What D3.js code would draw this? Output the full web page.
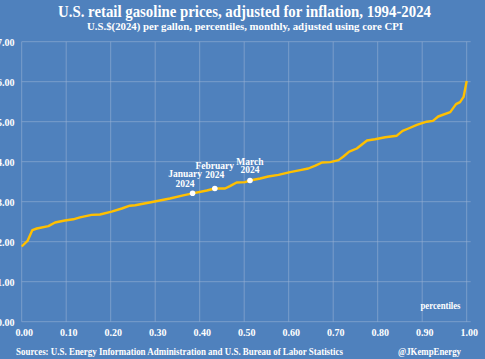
<!DOCTYPE html>
<html><head><meta charset="utf-8">
<script src="https://cdn.jsdelivr.net/npm/d3@7"></script>
<style>html,body{margin:0;padding:0;background:#4F81BD;}svg{display:block;}</style>
</head><body>
<svg id="c" width="485" height="359"></svg>
<script>
// Data (percentile, price in 2024 US$ per gallon)
const percentiles = [0.000,0.013,0.024,0.034,0.060,0.075,0.097,0.116,0.131,0.157,0.176,0.202,0.225,0.243,0.255,0.296,0.333,0.363,0.384,0.416,0.434,0.457,0.468,0.483,0.502,0.513,0.536,0.554,0.577,0.603,0.626,0.644,0.660,0.675,0.693,0.712,0.723,0.736,0.753,0.776,0.794,0.817,0.843,0.856,0.869,0.888,0.910,0.924,0.936,0.963,0.976,0.985,0.993,1.000];
const prices      = [1.88,2.02,2.29,2.33,2.39,2.48,2.53,2.56,2.61,2.67,2.68,2.75,2.83,2.90,2.91,3.00,3.08,3.16,3.21,3.28,3.33,3.33,3.39,3.48,3.49,3.53,3.58,3.63,3.67,3.74,3.79,3.83,3.90,3.98,3.99,4.04,4.13,4.25,4.33,4.53,4.56,4.61,4.65,4.77,4.83,4.92,5.00,5.02,5.13,5.24,5.44,5.49,5.62,6.02];
const markerLabels = ["January", "February", "March"];
const markerYears = ["2024", "2024", "2024"];
const markerPercentiles = [0.384, 0.434, 0.513];
const markerPrices = [3.21, 3.33, 3.53];
const xTicks = [0,0.1,0.2,0.3,0.4,0.5,0.6,0.7,0.8,0.9,1.0];
const yTicks = [0,1,2,3,4,5,6,7];
const title = "U.S. retail gasoline prices, adjusted for inflation, 1994-2024";
const subtitle = "U.S.$(2024) per gallon, percentiles, monthly, adjusted using core CPI";
const source = "Sources: U.S. Energy Information Administration and U.S. Bureau of Labor Statistics";
const credit = "@JKempEnergy";
const xLabel = "percentiles";

const svg = d3.select("#c");
const FONT = "'Liberation Serif', 'DejaVu Serif', serif";
const x = d3.scaleLinear().domain([0,1]).range([21.7,466.7]);
const y = d3.scaleLinear().domain([0,7]).range([321.7,41.7]);

svg.append("rect").attr("width",485).attr("height",359).attr("fill","#4F81BD");

// grid
const grid = svg.append("g").attr("stroke","#9DB4D6").attr("stroke-opacity",0.7).attr("stroke-width",0.8);
grid.selectAll("line.h").data(yTicks).join("line").attr("class","h")
  .attr("x1",x(0)).attr("x2",470.7).attr("y1",d=>y(d)).attr("y2",d=>y(d));
grid.selectAll("line.v").data(xTicks).join("line").attr("class","v")
  .attr("x1",d=>x(d)).attr("x2",d=>x(d)).attr("y1",y(7)).attr("y2",y(0));

// axes labels
const yAxis = d3.axisLeft(y).tickValues(yTicks).tickFormat(d3.format(".2f")).tickSize(0).tickPadding(0);
const ya = svg.append("g").attr("transform","translate(14.5,0)").call(yAxis);
ya.select(".domain").remove();
ya.selectAll("text").attr("fill","#fff").attr("font-family",FONT).attr("font-weight","bold").attr("font-size",10).attr("dy","0.35em");

const xAxis = d3.axisBottom(x).tickValues(xTicks).tickFormat(d3.format(".2f")).tickSize(0).tickPadding(0);
const xa = svg.append("g").attr("transform","translate(2,328.5)").call(xAxis);
xa.select(".domain").remove();
xa.selectAll("text").attr("fill","#fff").attr("font-family",FONT).attr("font-weight","bold").attr("font-size",10).attr("dy","0.71em");

// line
const line = d3.line().x((d,i)=>x(percentiles[i])).y(d=>y(d));
svg.append("path").datum(prices).attr("d",line).attr("fill","none")
  .attr("stroke","#FFC000").attr("stroke-width",2.4).attr("stroke-linejoin","round");

// markers
svg.selectAll("circle.m").data(markerPercentiles).join("circle").attr("class","m")
  .attr("cx",d=>x(d)).attr("cy",(d,i)=>y(markerPrices[i])).attr("r",2.8).attr("fill","#fff");
const labOff = [[-7.5,-16.5,-6.5],[0,-19.5,-10.5],[0,-16,-7.5]];
markerLabels.forEach((lab,i)=>{
  const cx = x(markerPercentiles[i]) + labOff[i][0];
  const cy = y(markerPrices[i]);
  const g = svg.append("g").attr("fill","#fff").attr("font-family",FONT).attr("font-weight","bold").attr("font-size",9.5).attr("text-anchor","middle");
  g.append("text").attr("x",cx).attr("y",cy+labOff[i][1]).text(lab);
  g.append("text").attr("x",cx).attr("y",cy+labOff[i][2]).text(markerYears[i]);
});

// titles
function fitText(sel, width){ sel.attr("textLength",width).attr("lengthAdjust","spacingAndGlyphs"); }
svg.append("text").attr("x",244.5).attr("y",16.5).attr("text-anchor","middle").attr("fill","#fff")
  .attr("font-family",FONT).attr("font-weight","bold").attr("font-size",16).text(title).call(fitText,373);
svg.append("text").attr("x",245).attr("y",29.5).attr("text-anchor","middle").attr("fill","#fff")
  .attr("font-family",FONT).attr("font-weight","bold").attr("font-size",10.5).text(subtitle).call(fitText,316);
svg.append("text").attr("x",440.5).attr("y",309).attr("text-anchor","middle").attr("fill","#fff")
  .attr("font-family",FONT).attr("font-weight","bold").attr("font-size",9.5).text(xLabel).call(fitText,40);
svg.append("text").attr("x",16).attr("y",355).attr("fill","#fff")
  .attr("font-family",FONT).attr("font-weight","bold").attr("font-size",10).text(source).call(fitText,327);
svg.append("text").attr("x",461).attr("y",355).attr("text-anchor","end").attr("fill","#fff")
  .attr("font-family",FONT).attr("font-weight","bold").attr("font-size",10).text(credit).call(fitText,63);
</script>
</body></html>
